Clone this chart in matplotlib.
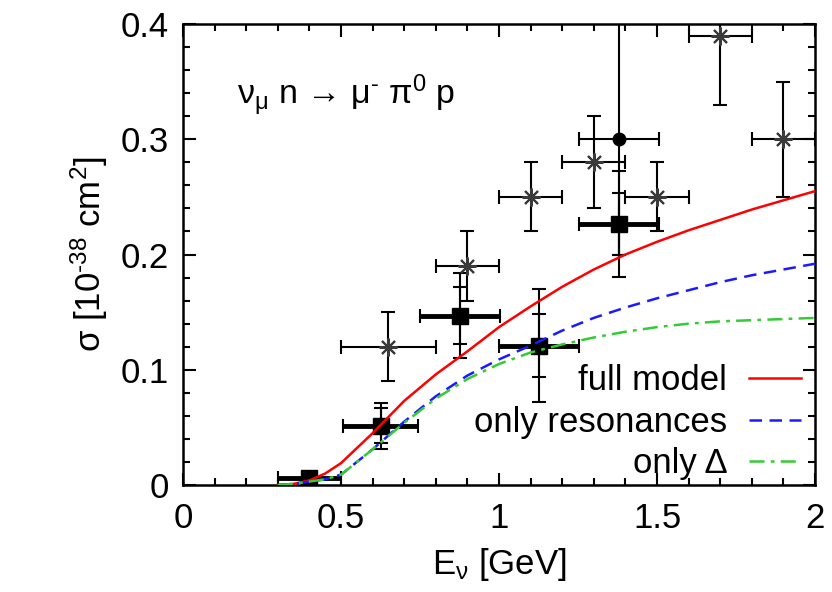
import matplotlib
matplotlib.use("Agg")
import matplotlib.pyplot as plt
import numpy as np

plt.rcParams['font.family'] = ['Liberation Sans', 'DejaVu Sans']
plt.rcParams['mathtext.fontset'] = 'custom'
plt.rcParams['mathtext.rm'] = 'Liberation Sans'
plt.rcParams['mathtext.it'] = 'Liberation Sans:italic'
plt.rcParams['mathtext.bf'] = 'Liberation Sans:bold'

# model curves
E_model = [0.3, 0.35, 0.4, 0.45, 0.5, 0.55, 0.6, 0.7, 0.8, 0.9, 1.0, 1.1, 1.2, 1.3, 1.4, 1.5, 1.6, 1.7, 1.8, 1.9, 2.0]
full_model = [0.0, 0.001, 0.004, 0.010, 0.019, 0.032, 0.045, 0.073, 0.096, 0.116, 0.137, 0.155, 0.172, 0.187, 0.200, 0.211, 0.221, 0.230, 0.239, 0.247, 0.255]
only_res = [0.0, 0.001, 0.003, 0.005, 0.009, 0.020, 0.031, 0.055, 0.077, 0.095, 0.109, 0.121, 0.134, 0.145, 0.154, 0.162, 0.169, 0.176, 0.182, 0.187, 0.192]
only_delta = [0.0, 0.001, 0.003, 0.005, 0.009, 0.020, 0.031, 0.054, 0.075, 0.092, 0.105, 0.115, 0.122, 0.128, 0.133, 0.137, 0.140, 0.142, 0.143, 0.144, 0.145]

# star data set
star_E = [0.65, 0.90, 1.10, 1.30, 1.50, 1.70, 1.90]
star_sig = [0.12, 0.19, 0.25, 0.28, 0.25, 0.39, 0.30]
star_xerr = [0.15, 0.10, 0.10, 0.10, 0.10, 0.10, 0.10]
star_yerr = [0.03, 0.03, 0.03, 0.04, 0.03, 0.06, 0.05]

# square data set
sq_E = [0.40, 0.625, 0.877, 1.127, 1.38]
sq_sig = [0.006, 0.0515, 0.147, 0.121, 0.2265]
sq_xerr = [0.10, 0.12, 0.127, 0.127, 0.127]
sq_yerr_stat = [0.003, 0.015, 0.025, 0.027, 0.027]
sq_yerr_tot = [0.005, 0.020, 0.037, 0.049, 0.046]

# circle data point
circ_E = [1.38]
circ_sig = [0.30]
circ_xerr = [0.127]
circ_yerr_lo = [0.10]
circ_yerr_hi = [0.15]

fig = plt.figure(figsize=(8.32, 5.92), dpi=100)
ax = fig.add_axes([0.22, 0.1807, 0.7596, 0.7788])

# error bars
ax.errorbar(star_E, star_sig, xerr=star_xerr, yerr=star_yerr, fmt='none',
            ecolor='black', elinewidth=1.5, capsize=5, capthick=1.5, zorder=3)
ax.plot(star_E, star_sig, linestyle='none', marker=(8, 2, 0), markersize=13,
        markeredgecolor='#3a3a3a', markeredgewidth=1.5, zorder=4)

ax.errorbar(sq_E, sq_sig, yerr=sq_yerr_tot, fmt='none', ecolor='black',
            elinewidth=1.5, capsize=5, capthick=1.5, zorder=3)
ax.errorbar(sq_E, sq_sig, yerr=sq_yerr_stat, fmt='none', ecolor='black',
            elinewidth=1.5, capsize=5, capthick=1.5, zorder=3)
ax.errorbar(sq_E, sq_sig, xerr=sq_xerr, fmt='s', color='black', markersize=12,
            ecolor='black', elinewidth=3.5, capsize=5, capthick=1.5, zorder=4)

ax.errorbar(circ_E, circ_sig, xerr=circ_xerr, yerr=[circ_yerr_lo, circ_yerr_hi],
            fmt='o', color='black', markersize=9, ecolor='black',
            elinewidth=1.5, capsize=5, capthick=1.5, zorder=4)

# curves
ax.plot(E_model, full_model, color='#ff0000', lw=1.8, label='full model', zorder=5)
ax.plot(E_model, only_res, color='#1a1aff', lw=1.8, dashes=(5, 3), label='only resonances', zorder=5)
ax.plot(E_model, only_delta, color='#33cc33', lw=1.8, dashes=(6, 2.5, 1.5, 2.5), label='only Δ', zorder=5)

ax.set_xlim(0, 2)
ax.set_ylim(0, 0.4)
ax.set_xticks([0, 0.5, 1, 1.5, 2])
ax.set_xticklabels(['0', '0.5', '1', '1.5', '2'])
ax.set_yticks([0, 0.1, 0.2, 0.3, 0.4])
ax.set_yticklabels(['0', '0.1', '0.2', '0.3', '0.4'])
ax.set_xticks(np.arange(0, 2.001, 0.1), minor=True)
ax.set_yticks(np.arange(0, 0.401, 0.02), minor=True)
ax.tick_params(which='both', direction='in', top=True, right=True, width=1.5, labelsize=25)
ax.tick_params(which='major', length=9)
ax.tick_params(which='minor', length=5)
ax.tick_params(axis='x', pad=12)
ax.tick_params(axis='y', pad=10)
for s in ax.spines.values():
    s.set_linewidth(1.8)

ax.set_xlabel(r'E$_\mathregular{ν}$ [GeV]', fontsize=25, labelpad=8)
ax.set_ylabel(r'σ [10$^{\text{-38}}$ cm$^\mathregular{2}$]', fontsize=25, labelpad=8)

ax.text(0.17, 0.338, r'$\mathregular{ν_μ\ n\ →\ μ^{\text{-}}\ π^0\ p}$', fontsize=24.5, va='center', ha='left')

ax.legend(loc='lower right', frameon=False, markerfirst=False, fontsize=25,
          handlelength=1.5, handletextpad=0.63, labelspacing=0.25,
          borderaxespad=0.0, bbox_to_anchor=(1.0, -0.02))

fig.savefig('out.png', dpi=100)
